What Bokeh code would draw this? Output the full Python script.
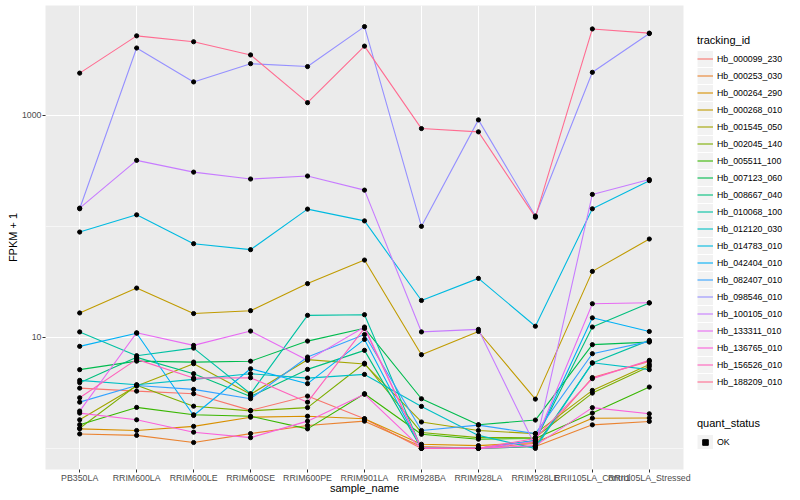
import math
from bokeh.plotting import figure
from bokeh.layouts import row
from bokeh.models import (ColumnDataSource, FactorRange, Range1d, FixedTicker,
                          NumeralTickFormatter, Legend, LegendItem)
from bokeh.embed import file_html
from bokeh.resources import INLINE

samples = ["PB350LA", "RRIM600LA", "RRIM600LE", "RRIM600SE", "RRIM600PE", "RRIM901LA",
           "RRIM928BA", "RRIM928LA", "RRIM928LE", "RRII105LA_Control", "RRII105LA_Stressed"]

tracking_ids = ["Hb_000099_230", "Hb_000253_030", "Hb_000264_290", "Hb_000268_010",
                "Hb_001545_050", "Hb_002045_140", "Hb_005511_100", "Hb_007123_060",
                "Hb_008667_040", "Hb_010068_100", "Hb_012120_030", "Hb_014783_010",
                "Hb_042404_010", "Hb_082407_010", "Hb_098546_010", "Hb_100105_010",
                "Hb_133311_010", "Hb_136765_010", "Hb_156526_010", "Hb_188209_010"]

colors = ["#F8766D", "#EA8331", "#D89000", "#C09B00", "#A3A500", "#7CAE00", "#39B600",
          "#00BB4E", "#00BF7D", "#00C1A3", "#00BFC4", "#00BAE0", "#00B0F6", "#35A2FF",
          "#9590FF", "#C77CFF", "#E76BF3", "#FA62DB", "#FF62BC", "#FF6C91"]

# FPKM + 1 per sample (order of `samples`)
hb_000099_230 = [3.49, 3.28, 3.11, 2.20, 2.96, 1.85, 1.0, 1.0, 1.11, 4.35, 6.08]
hb_000253_030 = [1.35, 1.31, 1.13, 1.36, 1.61, 1.76, 1.04, 1.0, 1.04, 1.63, 1.75]
hb_000264_290 = [1.50, 1.45, 1.58, 1.91, 1.95, 1.85, 1.09, 1.06, 1.13, 1.87, 1.88]
hb_000268_010 = [16.6, 27.8, 16.4, 17.4, 30.5, 49.7, 6.98, 11.3, 2.78, 39.3, 76.9]
hb_001545_050 = [1.81, 3.65, 5.80, 3.07, 6.3, 5.75, 1.73, 1.45, 1.36, 3.33, 5.71]
hb_002045_140 = [1.52, 3.7, 2.40, 2.18, 2.33, 5.85, 1.39, 1.25, 1.26, 3.15, 5.48]
hb_005511_100 = [1.635, 2.34, 2.01, 1.95, 1.50, 3.11, 1.34, 1.21, 1.23, 2.08, 3.57]
hb_007123_060 = [5.12, 6.11, 5.99, 6.1, 9.26, 12.1, 2.80, 1.635, 1.80, 8.60, 9.07]
hb_008667_040 = [3.91, 6.61, 4.71, 2.94, 5.15, 7.64, 1.0, 1.0, 1.18, 12.4, 20.4]
hb_010068_100 = [11.2, 6.84, 8.01, 3.11, 15.8, 16.0, 1.0, 1.0, 1.04, 5.87, 9.40]
hb_012120_030 = [4.10, 3.75, 4.19, 4.71, 4.30, 4.64, 2.39, 1.31, 1.0, 5.9, 5.12]
hb_014783_010 = [88.9, 127, 69.8, 61.7, 143, 112, 21.5, 34.0, 12.6, 144, 258]
hb_042404_010 = [8.30, 10.9, 1.98, 5.22, 3.83, 9.59, 1.0, 1.0, 1.18, 15.0, 11.3]
hb_082407_010 = [2.61, 3.69, 3.40, 2.80, 6.65, 10.6, 1.45, 1.62, 1.36, 7.13, 9.2]
hb_098546_010 = [144, 4040, 2000, 2920, 2750, 6300, 100, 910, 124, 2440, 5450]
hb_100105_010 = [146, 393, 308, 267, 284, 212, 11.2, 11.8, 1.05, 194, 264]
hb_133311_010 = [2.17, 11.0, 8.47, 11.4, 6.21, 12.4, 1.0, 1.0, 1.16, 20.1, 20.5]
hb_136765_010 = [2.08, 1.81, 1.40, 1.25, 1.76, 3.07, 1.0, 1.0, 1.06, 2.33, 2.05]
hb_156526_010 = [2.86, 6.34, 4.30, 4.33, 2.61, 12.1, 1.0, 1.0, 1.23, 4.25, 6.21]
hb_188209_010 = [2400, 5200, 4600, 3500, 1300, 4200, 760, 710, 121, 6000, 5500]

series = [hb_000099_230, hb_000253_030, hb_000264_290, hb_000268_010, hb_001545_050,
          hb_002045_140, hb_005511_100, hb_007123_060, hb_008667_040, hb_010068_100,
          hb_012120_030, hb_014783_010, hb_042404_010, hb_082407_010, hb_098546_010,
          hb_100105_010, hb_133311_010, hb_136765_010, hb_156526_010, hb_188209_010]

y_major = [10, 1000]
y_minor = [1, 100]
quant_status = ["OK"]

FONT = "Liberation Sans"
H = 491

all_vals = [v for s in series for v in s]
lo, hi = math.log10(min(all_vals)), math.log10(max(all_vals))
pad = 0.05 * (hi - lo)

p = figure(x_range=FactorRange(factors=samples, range_padding=0.1, range_padding_units="absolute"),
           y_range=Range1d(10 ** (lo - pad), 10 ** (hi + pad)),
           y_axis_type="log", width=690, height=H,
           output_backend="svg", toolbar_location=None,
           min_border_left=42, min_border_right=10, min_border_top=0, min_border_bottom=20)

p.background_fill_color = "#EBEBEB"
p.border_fill_color = "white"
p.outline_line_color = None

p.xgrid.grid_line_color = "white"
p.xgrid.grid_line_width = 1.1
p.ygrid.ticker = FixedTicker(ticks=y_major, minor_ticks=y_minor)
p.ygrid.grid_line_color = "white"
p.ygrid.grid_line_width = 1.1
p.ygrid.minor_grid_line_color = "white"
p.ygrid.minor_grid_line_width = 0.55

p.yaxis.ticker = FixedTicker(ticks=y_major, minor_ticks=y_minor)
p.yaxis.formatter = NumeralTickFormatter(format="0")
for ax in (p.xaxis, p.yaxis):
    ax.axis_line_color = None
    ax.major_tick_line_color = "#333333"
    ax.major_tick_in = 0
    ax.major_tick_out = 3
    ax.minor_tick_in = 0
    ax.minor_tick_out = 0
    ax.major_label_text_font = FONT
    ax.major_label_text_font_size = "8.8px"
    ax.major_label_text_color = "#4D4D4D"
    ax.axis_label_text_font = FONT
    ax.axis_label_text_font_size = "11px"
    ax.axis_label_text_font_style = "normal"
    ax.axis_label_text_color = "black"
p.yaxis.major_label_standoff = 1
p.yaxis.axis_label_standoff = 0
p.xaxis.major_label_standoff = 0
p.xaxis.axis_label_standoff = -4
p.xaxis.axis_label = "sample_name"
p.yaxis.axis_label = "FPKM + 1"

# legend panel: a separate figure whose view range lies away from the data,
# so its renderers only show up as legend keys
lp = figure(x_range=FactorRange(factors=samples), y_range=Range1d(-2, -1),
            width=99, height=H, output_backend="svg", toolbar_location=None,
            x_axis_location=None, y_axis_location=None, min_border=0)
lp.grid.visible = False
lp.outline_line_color = None
lp.background_fill_color = "white"
lp.border_fill_color = "white"

items = []
sources = []
for name, col, vals in zip(tracking_ids, colors, series):
    src = ColumnDataSource(dict(x=samples, y=vals))
    sources.append(src)
    p.line("x", "y", source=src, line_color=col, line_width=1.1)
    key_bg = lp.line("x", "y", source=src, line_width=16, line_color="#F2F2F2", line_cap="butt")
    key_ln = lp.line("x", "y", source=src, line_color=col, line_width=1.1)
    items.append(LegendItem(label=name, renderers=[key_bg, key_ln]))

for src in sources:
    p.scatter("x", "y", source=src, size=4.2, color="black")

ok_bg = lp.line("x", "y", source=sources[0], line_width=16, line_color="#F2F2F2", line_cap="butt")
ok_pt = lp.scatter("x", "y", source=sources[0], size=4.2, color="black", marker="square")


def style_legend(lg, gh=17, lh=17, ts=4):
    lg.border_line_color = None
    lg.background_fill_alpha = 0
    lg.padding = 0
    lg.margin = 0
    lg.spacing = 0
    lg.glyph_width = 16
    lg.glyph_height = gh
    lg.label_height = lh
    lg.label_standoff = 4
    lg.label_text_font = FONT
    lg.label_text_font_size = "8.8px"
    lg.label_text_color = "black"
    lg.title_text_font = FONT
    lg.title_text_font_size = "11px"
    lg.title_text_font_style = "normal"
    lg.title_text_color = "black"
    lg.title_standoff = ts


leg1 = Legend(items=items, title="tracking_id", location=(4, 79))
style_legend(leg1)
lp.add_layout(leg1, "center")

leg2 = Legend(items=[LegendItem(label=quant_status[0], renderers=[ok_bg, ok_pt])],
              title="quant_status", location=(4, 20))
style_legend(leg2, gh=14, lh=14, ts=6)
lp.add_layout(leg2, "center")

layout = row(p, lp, styles={"margin-top": "5px", "margin-left": "3px"})

open("out.html", "w").write(file_html(layout, INLINE))
